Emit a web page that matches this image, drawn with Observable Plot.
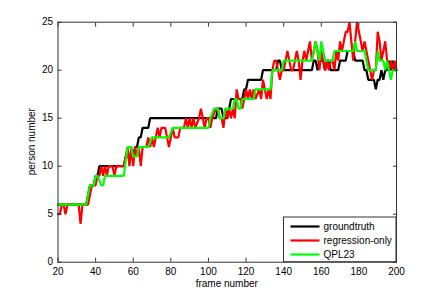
<!DOCTYPE html>
<html>
<head>
<meta charset="utf-8">
<script src="https://cdn.jsdelivr.net/npm/d3@7"></script>
<script src="https://cdn.jsdelivr.net/npm/@observablehq/plot@0.6"></script>
<style>
  html, body { margin: 0; padding: 0; background: #fff; }
  #chart { width: 436px; height: 295px; }
  svg { font-family: "Liberation Sans", Arial, sans-serif; }
</style>
</head>
<body>
<div id="chart"></div>
<script>
// ---- data ----
const seriesNames = ["groundtruth", "regression-only", "QPL23"];
const seriesColors = ["#000000", "#ff0000", "#00ff00"];

const gtFrame = [20,35,36,37,39,40,41,42,45,55,56,60,61,62,63,64,65,68,69,104,105,107,108,110,111,112,118,119,120,121,128,129,136,137,138,139,155,156,157,158,159,161,162,163,164,165,169,170,173,174,177,178,182,183,184,185,186,188,189,190,191,192,193,194,195,196,197,198,199,200];
const gtCount = [6,6,7,8,8,9,9,10,10,10,11,11,12,12,13,13,14,14,15,15,16,16,15,15,16,17,17,18,18,19,19,20,20,21,21,20,20,21,21,20,21,21,20,21,21,20,20,21,21,22,22,21,21,20,20,19,19,19,18,19,19,20,19,20,20,21,20,21,20,20];

const regFrame = [20,21,22,23,24,25,26,31,32,33,35,36,37,38,40,41,42,43,44,45,46,47,49,50,51,55,56,57,58,59,60,61,62,63,64,65,67,68,69,70,71,72,73,74,75,77,78,79,80,81,82,84,85,87,88,89,90,91,92,93,95,96,97,98,99,100,101,102,104,105,106,107,108,109,110,111,112,113,114,115,116,117,118,119,120,121,122,123,124,125,127,128,129,130,131,132,133,134,135,136,137,138,139,140,141,142,143,144,145,146,147,148,149,150,151,152,153,154,155,156,157,158,159,160,161,162,163,164,165,166,167,168,169,170,171,172,173,174,175,176,177,178,179,180,181,182,183,184,185,186,187,188,189,190,191,192,193,194,195,196,197,198,199,200];
const regCount = [5,5,6,6,5,6,6,6,4,6,6,6,7,8,8,9,9,10,9,10,9,10,10,9,10,10,11,12,10,12,10,12,11,12,10,12,12,13,12,13,12,13,14,13,14,14,13,12,13,14,13,13,14,14,15,14,15,14,15,14,15,16,15,14,15,15,14,15,16,16,15,15,14,16,15,16,15,16,15,18,17,17,16,17,18,17,18,17,18,17,18,17,19,18,17,18,17,20,21,21,20,19,20,20,21,22,21,20,20,21,22,21,19,21,22,21,22,23,21,22,23,22,20,22,21,20,21,20,21,21,20,22,21,23,22,23,24,24,25,23,21,23,25,24,23,22,23,22,21,20,19,20,20,24,23,21,22,23,21,20,21,20,21,20];

const qplFrame = [20,35,36,37,39,40,41,43,44,45,55,57,59,60,62,63,68,70,79,81,100,101,103,105,106,108,109,113,114,115,116,117,118,124,125,133,134,139,140,155,157,158,159,160,161,162,166,167,177,178,179,183,184,185,188,189,190,191,193,194,195,197,198,200];
const qplCount = [6,6,7,8,8,9,9,8,8,9,9,12,12,11,11,12,12,13,13,14,14,15,16,16,15,15,16,16,17,17,16,16,17,17,18,18,20,20,21,21,23,22,21,23,22,21,21,22,22,23,22,22,21,20,20,20,22,21,21,20,21,19,20,20];

const xTicks = [20,40,60,80,100,120,140,160,180,200];
const yTicks = [0,5,10,15,20,25];

// ---- build table ----
const rows = [];
[[gtFrame, gtCount], [regFrame, regCount], [qplFrame, qplCount]].forEach(([fs, cs], i) => {
  fs.forEach((f, j) => rows.push({frame: f, count: cs[j], series: seriesNames[i]}));
});

const font = "Liberation Sans, Arial, sans-serif";
const chart = Plot.plot({
  width: 436,
  height: 295,
  marginLeft: 57.5,
  marginRight: 40,
  marginTop: 21.7,
  marginBottom: 33.3,
  style: {fontFamily: font, fontSize: "10px", background: "#fff", color: "#000"},
  x: {domain: [20, 200], ticks: xTicks, label: null},
  y: {domain: [0, 25], ticks: yTicks, label: null},
  color: {domain: seriesNames, range: seriesColors},
  marks: [
    Plot.line(rows.filter(d => d.series === "groundtruth"), {x: "frame", y: "count", stroke: "series", strokeWidth: 2.2, strokeLinejoin: "miter"}),
    Plot.line(rows.filter(d => d.series === "regression-only"), {x: "frame", y: "count", stroke: "series", strokeWidth: 2.2, strokeLinejoin: "miter"}),
    Plot.line(rows.filter(d => d.series === "QPL23"), {x: "frame", y: "count", stroke: "series", strokeWidth: 2.2, strokeLinejoin: "miter"}),
    Plot.axisX({anchor: "bottom", ticks: xTicks, tickSize: 0, tickPadding: 6, fontSize: 10}),
    Plot.axisX({anchor: "bottom", ticks: xTicks, tickSize: -4, tickFormat: () => "", stroke: "#333"}),
    Plot.axisX({anchor: "top", ticks: xTicks, tickSize: -4, tickFormat: () => "", stroke: "#333"}),
    Plot.axisY({anchor: "left", ticks: yTicks, tickSize: 0, tickPadding: 5, fontSize: 10}),
    Plot.axisY({anchor: "left", ticks: yTicks, tickSize: -4, tickFormat: () => "", stroke: "#333"}),
    Plot.axisY({anchor: "right", ticks: yTicks, tickSize: -4, tickFormat: () => "", stroke: "#333"}),
    Plot.frame({stroke: "#333", strokeWidth: 1})
  ]
});

document.getElementById("chart").appendChild(chart);

// axis titles and legend
const svg = d3.select(chart);
const sx = chart.scale("x"), sy = chart.scale("y");
const x0 = sx.apply(20), x1 = sx.apply(200), y0 = sy.apply(0), y1 = sy.apply(25);

svg.append("text").attr("x", (x0 + x1) / 2).attr("y", 286.5)
  .attr("text-anchor", "middle").attr("font-size", 10).attr("font-family", font)
  .text("frame number");
svg.append("text").attr("transform", `translate(35,${(y0 + y1) / 2}) rotate(-90)`)
  .attr("text-anchor", "middle").attr("font-size", 10).attr("font-family", font)
  .text("person number");

const lg = svg.append("g");
const lx = 283.5, ly = 217, lw = x1 - lx, lh = y0 - ly;
lg.append("rect").attr("x", lx).attr("y", ly).attr("width", lw).attr("height", lh)
  .attr("fill", "#fff").attr("stroke", "#333").attr("stroke-width", 1);
seriesNames.forEach((n, i) => {
  const yy = ly + 9.5 + i * 14;
  lg.append("line").attr("x1", lx + 7).attr("x2", lx + 36).attr("y1", yy).attr("y2", yy)
    .attr("stroke", seriesColors[i]).attr("stroke-width", 2.2);
  lg.append("text").attr("x", lx + 40).attr("y", yy).attr("dy", "0.35em")
    .attr("text-anchor", "start")
    .attr("font-size", 10).attr("font-family", font).text(n);
});
</script>
</body>
</html>
